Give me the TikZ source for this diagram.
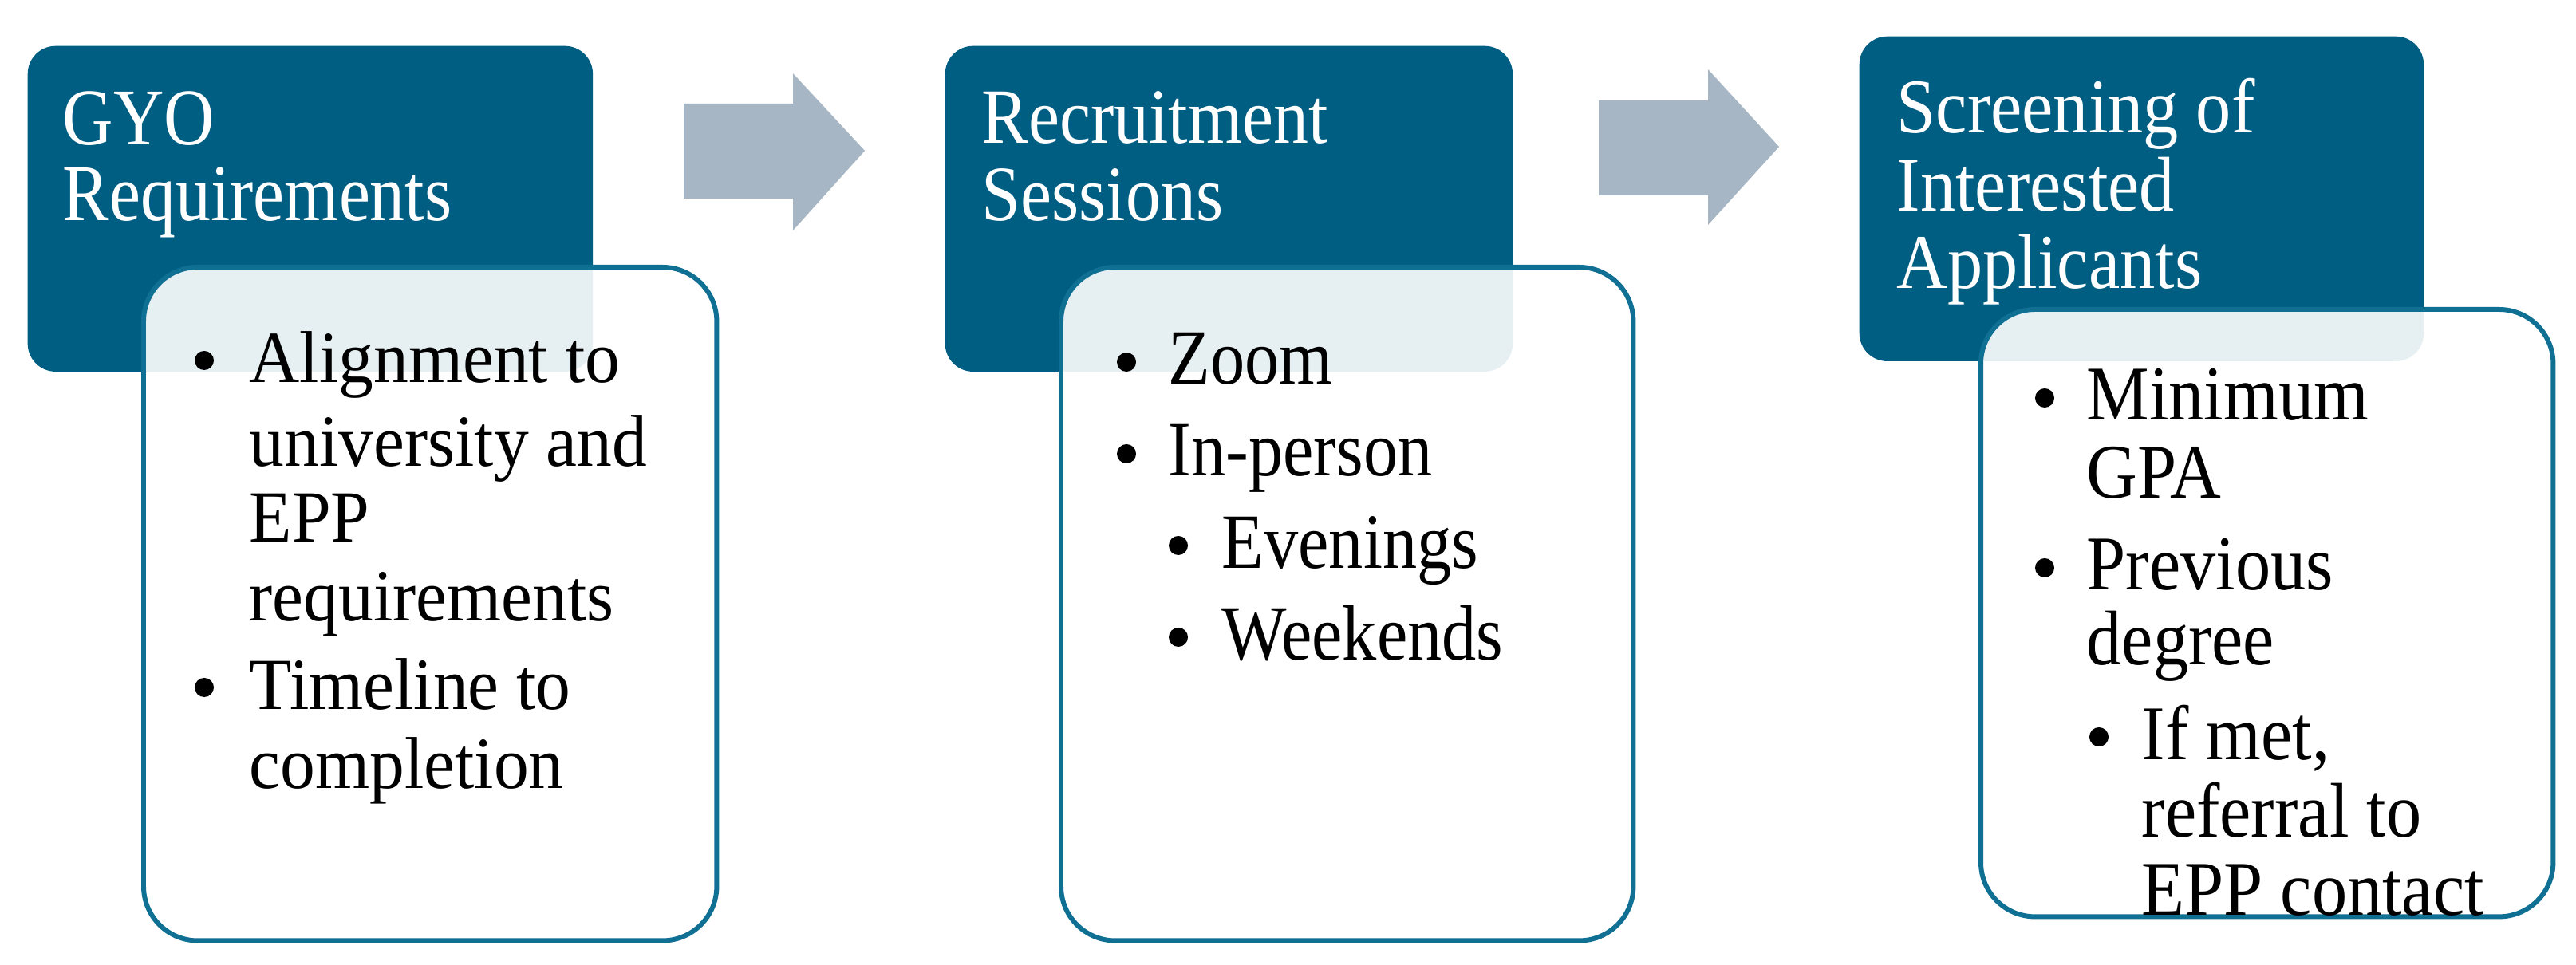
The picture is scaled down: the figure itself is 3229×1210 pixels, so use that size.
\documentclass[tikz,border=0pt]{standalone}
\usepackage{fontspec}
\setmainfont{Liberation Serif}
\newfontfamily\fhA[FakeStretch=0.87]{Liberation Serif}
\newfontfamily\fbA[FakeStretch=0.95]{Liberation Serif}
\newfontfamily\fhB[FakeStretch=0.895]{Liberation Serif}
\newfontfamily\fbB[FakeStretch=0.88]{Liberation Serif}
\newfontfamily\fhC[FakeStretch=0.91]{Liberation Serif}
\definecolor{hdrblue}{RGB}{0,94,131}
\definecolor{bordblue}{RGB}{16,112,148}
\definecolor{arrowgray}{RGB}{167,182,196}
\tikzset{
  hdr/.style={fill=hdrblue, draw=none, rounded corners=0.35cm, inner sep=0pt, anchor=north west},
  bodybx/.style={draw=bordblue, line width=1.7pt, fill=white, fill opacity=0.9, rounded corners=0.68cm, inner sep=0pt, anchor=north west},
  htxt/.style={anchor=base west, inner sep=0pt, text=white},
  btxt/.style={anchor=base west, inner sep=0pt, text=black},
  dot/.style={circle, fill=black, draw=none, inner sep=0pt, minimum size=0.24cm},
  flowarrow/.style={fill=arrowgray, draw=none},
  fontHA/.style={font=\fhA\fontsize{28.7pt}{27pt}\selectfont},
  fontBA/.style={font=\fbA\fontsize{26.2pt}{29pt}\selectfont},
  fontHB/.style={font=\fhB\fontsize{27.9pt}{27pt}\selectfont},
  fontBB/.style={font=\fbB\fontsize{27.9pt}{32pt}\selectfont},
  fontC/.style={font=\fhC\fontsize{27.6pt}{27pt}\selectfont}
}
\begin{document}
\begin{tikzpicture}[x=0.01cm,y=-0.01cm]
\useasboundingbox (0,0) rectangle (3229,1210);

% ---------- Block 1 ----------
\node[hdr, minimum width=7.08cm, minimum height=4.08cm] (h1) at (34,57) {};
\node[bodybx, minimum width=7.18cm, minimum height=8.44cm] (b1) at (177,332) {};
\node[htxt, fontHA] (h1a) at (78,182) {GYO};
\node[htxt, fontHA] (h1b) at (78,277) {Requirements};
\node[dot] (d1a) at (256,452) {};
\node[btxt, fontBA] (t1a) at (312,480) {Alignment to};
\node[btxt, fontBA] (t1b) at (312,585) {university and};
\node[btxt, fontBA] (t1c) at (312,680) {EPP};
\node[btxt, fontBA] (t1d) at (312,779) {requirements};
\node[dot] (d1b) at (256,862) {};
\node[btxt, fontBA] (t1e) at (312,890) {Timeline to};
\node[btxt, fontBA] (t1f) at (312,989) {completion};

% ---------- Arrow 1 ----------
\fill[flowarrow] (857,130) -- (994,130) -- (994,92) -- (1084,189) -- (994,289) -- (994,249) -- (857,249) -- cycle;

% ---------- Block 2 ----------
\node[hdr, minimum width=7.11cm, minimum height=4.08cm] (h2) at (1184,57) {};
\node[bodybx, minimum width=7.17cm, minimum height=8.44cm] (b2) at (1327,332) {};
\node[htxt, fontHB] (h2a) at (1230,180) {Recruitment};
\node[htxt, fontHB] (h2b) at (1230,277) {Sessions};
\node[dot] (d2a) at (1412,454) {};
\node[btxt, fontBB] (t2a) at (1464,482) {Zoom};
\node[dot] (d2b) at (1412,569) {};
\node[btxt, fontBB] (t2b) at (1464,597) {In-person};
\node[dot] (d2c) at (1477,684) {};
\node[btxt, fontBB] (t2c) at (1531,713) {Evenings};
\node[dot] (d2d) at (1477,799) {};
\node[btxt, fontBB] (t2d) at (1531,828) {Weekends};

% ---------- Arrow 2 ----------
\fill[flowarrow] (2004,126) -- (2141,126) -- (2141,87) -- (2230,184) -- (2141,282) -- (2141,245) -- (2004,245) -- cycle;

% ---------- Block 3 ----------
\node[hdr, minimum width=7.07cm, minimum height=4.07cm] (h3) at (2330,45) {};
\node[bodybx, minimum width=7.17cm, minimum height=7.61cm] (b3) at (2480,385) {};
\node[htxt, fontC] (h3a) at (2377,167) {Screening of};
\node[htxt, fontC] (h3b) at (2377,265) {Interested};
\node[htxt, fontC] (h3c) at (2377,362) {Applicants};
\node[dot] (d3a) at (2563,499) {};
\node[btxt, fontC] (t3a) at (2615,527) {Minimum};
\node[btxt, fontC] (t3b) at (2615,625) {GPA};
\node[dot] (d3b) at (2563,712) {};
\node[btxt, fontC] (t3c) at (2615,740) {Previous};
\node[btxt, fontC] (t3d) at (2615,834) {degree};
\node[dot] (d3c) at (2631,924) {};
\node[btxt, fontC] (t3e) at (2684,953) {If met,};
\node[btxt, fontC] (t3f) at (2684,1050) {referral to};
\node[btxt, fontC] (t3g) at (2684,1148) {EPP contact};
\end{tikzpicture}
\end{document}
